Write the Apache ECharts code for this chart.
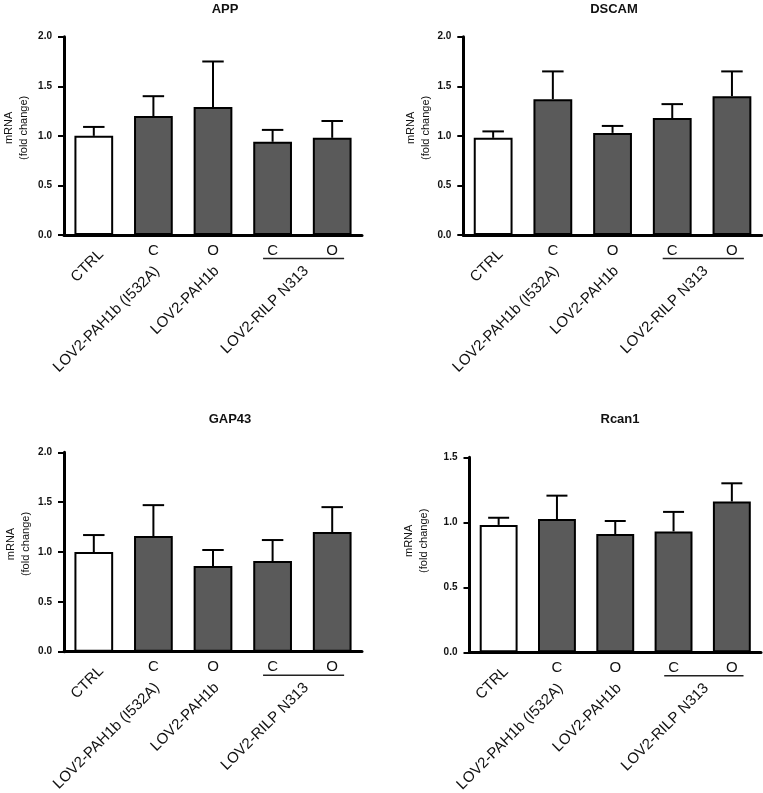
<!DOCTYPE html>
<html><head><meta charset="utf-8">
<script src="https://cdn.jsdelivr.net/npm/echarts@6/dist/echarts.min.js"></script>
<style>html,body{margin:0;padding:0;background:#fff}#c{width:763px;height:793px}</style>
</head><body><div id="c"></div>
<script>
// ---------- data ----------
const categories = ['CTRL', 'LOV2-PAH1b (I532A) C', 'LOV2-PAH1b O', 'LOV2-RILP N313 C', 'LOV2-RILP N313 O'];
const conditionLabels = ['', 'C', 'O', 'C', 'O'];
const groupLabels = ['CTRL', 'LOV2-PAH1b (I532A)', 'LOV2-PAH1b', 'LOV2-RILP N313'];
const groupCenters = [0, 1, 2, 3.5];           // category index the group label sits under
const groupRow = [0, 1, 1, 1];                 // 0: directly under axis, 1: below the C/O row
const underlinedGroup = [3, 4];                 // categories joined by a line

const panelTitles = ['APP', 'DSCAM', 'GAP43', 'Rcan1'];

const appMean   = [1.00, 1.20, 1.29, 0.94, 0.98];
const appSem    = [0.09, 0.20, 0.46, 0.12, 0.17];
const dscamMean = [0.98, 1.37, 1.03, 1.18, 1.40];
const dscamSem  = [0.065, 0.28, 0.07, 0.14, 0.25];
const gap43Mean = [1.00, 1.16, 0.86, 0.91, 1.20];
const gap43Sem  = [0.17, 0.31, 0.16, 0.21, 0.25];
const rcan1Mean = [0.98, 1.025, 0.91, 0.93, 1.16];
const rcan1Sem  = [0.055, 0.18, 0.10, 0.15, 0.14];

const yMaxes = [2.0, 2.0, 2.0, 1.5];
const yInterval = 0.5;
const yAxisName = 'mRNA\n(fold change)';

// ---------- layout / style ----------
const means = [appMean, dscamMean, gap43Mean, rcan1Mean];
const sems = [appSem, dscamSem, gap43Sem, rcan1Sem];
const grids = [
  {left: 64,    top: 36.7,  width: 298,   height: 198.3},
  {left: 463.3, top: 36.7,  width: 298.5, height: 198.3},
  {left: 64,    top: 452.3, width: 298,   height: 199.4},
  {left: 469.5, top: 457.3, width: 291.5, height: 195}
];
const titlePos = [[225, 9.5], [614, 9.5], [230, 419.5], [620, 419.5]];
const nameGaps = [33, 30, 31, 38];
const nameShift = [8, 8, 8, 14];
const rowMargins = [17, 33.7];
const rowShift = [0.125, 0.0625]; // rotated label anchor shift (in categories)
const FONT = "'Liberation Sans', Arial, Helvetica, sans-serif";
const GREY = '#5a5a5a';
const SUB = 16;            // label-axis subdivisions per category

// rotated label slots, one set per row
const nSlots = categories.length * SUB + 1;
const slotRows = [0, 1].map(row => {
  const labels = new Array(nSlots).fill('');
  groupLabels.forEach((g, i) => {
    if (groupRow[i] !== row) return;
    labels[Math.round((groupCenters[i] + 0.5 + rowShift[row]) * SUB)] = g;
  });
  return labels;
});
const slotCats = new Array(nSlots).fill(0).map((_, i) => 's' + i);

const option = {
  animation: false,
  backgroundColor: '#fff',
  textStyle: {fontFamily: FONT},
  title: panelTitles.map((t, k) => ({
    text: t, left: titlePos[k][0], top: titlePos[k][1], padding: 0,
    textAlign: 'center', textVerticalAlign: 'middle',
    textStyle: {fontFamily: FONT, fontSize: 13, fontWeight: 'bold', color: '#111'}
  })),
  grid: grids.map(g => Object.assign({outerBoundsMode: 'none', containLabel: false}, g)),
  xAxis: [],
  yAxis: [],
  series: [],
  graphic: []
};

const AX = 3; // x axes per grid
for (let k = 0; k < 4; k++) {
  option.xAxis.push({
    gridIndex: k, type: 'category', data: categories, position: 'bottom',
    axisLine: {lineStyle: {color: '#000', width: 3}},
    axisTick: {show: false},
    splitLine: {show: false},
    axisLabel: {interval: 0, margin: 8, fontSize: 15, color: '#111', fontFamily: FONT,
      formatter: (v, i) => conditionLabels[i]}
  });
  [0, 1].forEach(row => {
    option.xAxis.push({
      gridIndex: k, type: 'category', data: slotCats, boundaryGap: false, position: 'bottom',
      axisLine: {show: false}, axisTick: {show: false}, splitLine: {show: false},
      axisLabel: {interval: 0, rotate: 45, margin: rowMargins[row], fontSize: 15, color: '#111', fontFamily: FONT,
        formatter: (v, i) => slotRows[row][i]}
    });
  });
  option.yAxis.push({
    gridIndex: k, type: 'value', min: 0, max: yMaxes[k], interval: yInterval,
    name: yAxisName, nameLocation: 'middle', nameGap: nameGaps[k], nameRotate: 90,
    nameTextStyle: {fontSize: 11, lineHeight: 15, color: '#111', fontFamily: FONT,
      padding: [0, 0, 0, nameShift[k] * 2]},
    axisLine: {show: true, lineStyle: {color: '#000', width: 3}},
    axisTick: {show: true, length: 6, lineStyle: {color: '#000', width: 2}},
    splitLine: {show: false},
    axisLabel: {margin: 12, fontSize: 10, fontWeight: 'bold', color: '#111', fontFamily: FONT,
      formatter: v => v.toFixed(1)}
  });
  option.series.push({
    type: 'bar', xAxisIndex: AX * k, yAxisIndex: k, barWidth: '65%',
    itemStyle: {borderColor: '#000', borderWidth: 2},
    data: means[k].map((v, i) => ({value: v, itemStyle: {color: i === 0 ? '#fff' : GREY}})),
    z: 2
  });
  option.series.push({
    type: 'custom', xAxisIndex: AX * k, yAxisIndex: k, z: 3,
    data: means[k].map((m, i) => [i, m, m + sems[k][i]]),
    encode: {x: 0, y: [1, 2]},
    renderItem: (params, api) => {
      const i = api.value(0);
      const b = api.coord([i, api.value(1)]);
      const t = api.coord([i, api.value(2)]);
      const hw = api.size([1, 0])[0] * 0.18;
      return {type: 'group', children: [
        {type: 'line', shape: {x1: b[0], y1: b[1], x2: t[0], y2: t[1]}, style: {stroke: '#000', lineWidth: 2}},
        {type: 'line', shape: {x1: t[0] - hw, y1: t[1], x2: t[0] + hw, y2: t[1]}, style: {stroke: '#000', lineWidth: 2}}
      ]};
    }
  });
}

const chart = echarts.init(document.getElementById('c'), null, {renderer: 'canvas'});
chart.setOption(option);

// underline joining the C/O conditions of the last group
const lines = [];
for (let k = 0; k < 4; k++) {
  const xa = chart.convertToPixel({xAxisIndex: AX * k}, underlinedGroup[0]);
  const xb = chart.convertToPixel({xAxisIndex: AX * k}, underlinedGroup[1]);
  const band = xb - xa;
  const y0 = chart.convertToPixel({yAxisIndex: k}, 0);
  lines.push({type: 'line', z: 10,
    shape: {x1: xa - band * 0.16, y1: y0 + 23.5, x2: xb + band * 0.2, y2: y0 + 23.5},
    style: {stroke: '#222', lineWidth: 1.5}});
}
chart.setOption({graphic: lines});
</script>
</body></html>
